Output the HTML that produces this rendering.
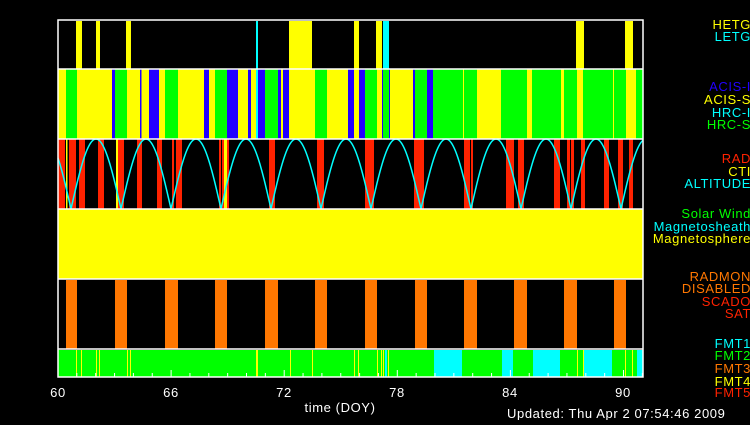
<!DOCTYPE html>
<html><head><style>
body{margin:0;background:#000;}
svg text{font-family:"Liberation Sans",sans-serif;font-size:13px;letter-spacing:0.6px;}
</style></head><body>
<svg width="750" height="420" xmlns="http://www.w3.org/2000/svg">
<rect width="750" height="420" fill="#000"/>
<g fill="#ffff00">
<rect x="76" y="21" width="6" height="48"/><rect x="96" y="21" width="4" height="48"/><rect x="126" y="21" width="5" height="48"/>
<rect x="289" y="21" width="23" height="48"/><rect x="354" y="21" width="5" height="48"/><rect x="376" y="21" width="6" height="48"/>
<rect x="576" y="21" width="8" height="48"/><rect x="625" y="21" width="8" height="48"/></g>
<g fill="#00ffff"><rect x="256" y="21" width="2" height="48"/><rect x="383" y="21" width="6" height="48"/></g>
<rect x="58" y="69" width="585" height="70" fill="#ffff00"/>
<g fill="#00ff00">
<rect x="66" y="69" width="11" height="70"/><rect x="115" y="69" width="12" height="70"/><rect x="165" y="69" width="13" height="70"/>
<rect x="215" y="69" width="12" height="70"/><rect x="265" y="69" width="13" height="70"/><rect x="315" y="69" width="12" height="70"/>
<rect x="365" y="69" width="12" height="70"/><rect x="383" y="69" width="6" height="70"/><rect x="415" y="69" width="12" height="70"/>
<rect x="433" y="69" width="44" height="70"/><rect x="501" y="69" width="26" height="70"/><rect x="532" y="69" width="29" height="70"/>
<rect x="564" y="69" width="13" height="70"/><rect x="583" y="69" width="43" height="70"/><rect x="636" y="69" width="7" height="70"/></g>
<g fill="#ffff00"><rect x="463" y="69" width="1" height="70"/><rect x="613" y="69" width="1" height="70"/></g>
<g fill="#2200ff">
<rect x="112" y="69" width="3" height="70"/><rect x="140" y="69" width="1.5" height="70"/><rect x="149" y="69" width="10" height="70"/>
<rect x="204" y="69" width="5" height="70"/><rect x="227" y="69" width="11" height="70"/><rect x="248" y="69" width="3" height="70"/>
<rect x="258" y="69" width="7" height="70"/><rect x="278" y="69" width="3" height="70"/><rect x="283" y="69" width="6" height="70"/>
<rect x="348" y="69" width="6" height="70"/><rect x="359" y="69" width="6" height="70"/><rect x="382" y="69" width="1" height="70"/>
<rect x="389" y="69" width="1" height="70"/><rect x="413" y="69" width="2" height="70"/><rect x="427" y="69" width="6" height="70"/></g>
<rect x="256" y="69" width="2" height="70" fill="#00ffff"/>
<g fill="#ff2200">
<rect x="58" y="139" width="7" height="70"/><rect x="69" y="139" width="7" height="70"/><rect x="79" y="139" width="6" height="70"/>
<rect x="98" y="139" width="6" height="70"/><rect x="118" y="139" width="6" height="70"/><rect x="137" y="139" width="5" height="70"/>
<rect x="157" y="139" width="5" height="70"/><rect x="172" y="139" width="2" height="70"/><rect x="176" y="139" width="6" height="70"/>
<rect x="219" y="139" width="2" height="70"/><rect x="222" y="139" width="2" height="70"/><rect x="227" y="139" width="2" height="70"/>
<rect x="269" y="139" width="6" height="70"/><rect x="317" y="139" width="7" height="70"/><rect x="365" y="139" width="9" height="70"/>
<rect x="414" y="139" width="10" height="70"/><rect x="464" y="139" width="6" height="70"/><rect x="471" y="139" width="2" height="70"/>
<rect x="506" y="139" width="8" height="70"/><rect x="518" y="139" width="6" height="70"/><rect x="554" y="139" width="6" height="70"/>
<rect x="567" y="139" width="3" height="70"/><rect x="571" y="139" width="3" height="70"/><rect x="581" y="139" width="4" height="70"/>
<rect x="604" y="139" width="5" height="70"/><rect x="618" y="139" width="5" height="70"/><rect x="629" y="139" width="4" height="70"/></g>
<g fill="#ffff00"><rect x="66" y="139" width="1.5" height="70"/><rect x="116" y="139" width="2" height="70"/><rect x="224" y="139" width="3" height="70"/></g>
<polyline id="alt" fill="none" stroke="#00ffff" stroke-width="1.5" points=""/>
<rect x="58" y="209" width="585" height="70" fill="#ffff00"/>
<g fill="#ff7700">
<rect x="66" y="280" width="11" height="69"/><rect x="115" y="280" width="12" height="69"/><rect x="165" y="280" width="13" height="69"/>
<rect x="215" y="280" width="12" height="69"/><rect x="265" y="280" width="13" height="69"/><rect x="315" y="280" width="12" height="69"/>
<rect x="365" y="280" width="12" height="69"/><rect x="415" y="280" width="12" height="69"/><rect x="464" y="280" width="13" height="69"/>
<rect x="514" y="280" width="13" height="69"/><rect x="564" y="280" width="13" height="69"/><rect x="614" y="280" width="12" height="69"/></g>
<rect x="58" y="350" width="585" height="27" fill="#00ff00"/>
<g fill="#00ffff"><rect x="434" y="350" width="28" height="27"/><rect x="502" y="350" width="11" height="27"/><rect x="533" y="350" width="27" height="27"/><rect x="584" y="350" width="28" height="27"/><rect x="637" y="350" width="6" height="27"/><rect x="385" y="350" width="2" height="27"/></g>
<g fill="#ffff00"><rect x="76" y="350" width="1" height="27"/><rect x="81" y="350" width="1" height="27"/><rect x="96" y="350" width="1" height="27"/><rect x="99" y="350" width="1" height="27"/><rect x="127" y="350" width="1" height="27"/><rect x="130" y="350" width="1" height="27"/><rect x="256" y="350" width="2" height="27"/><rect x="290" y="350" width="1" height="27"/><rect x="312" y="350" width="1" height="27"/><rect x="354" y="350" width="1" height="27"/><rect x="358" y="350" width="1" height="27"/><rect x="377" y="350" width="1" height="27"/><rect x="381" y="350" width="1" height="27"/><rect x="383" y="350" width="1" height="27"/><rect x="388" y="350" width="1" height="27"/><rect x="577" y="350" width="1" height="27"/><rect x="583" y="350" width="1" height="27"/><rect x="625" y="350" width="1" height="27"/><rect x="632" y="350" width="1" height="27"/></g>
<g fill="none" stroke="#fff" stroke-width="1.5">
<rect x="58" y="20" width="585" height="357"/>
<line x1="58" y1="69" x2="643" y2="69"/><line x1="58" y1="139" x2="643" y2="139"/><line x1="58" y1="209" x2="643" y2="209"/>
<line x1="58" y1="279" x2="643" y2="279"/><line x1="58" y1="349" x2="643" y2="349"/></g>
<g id="ticks" stroke="#fff" stroke-width="1"></g>
<g fill="#fff" text-anchor="middle">
<text x="58" y="397">60</text><text x="171" y="397">66</text><text x="284" y="397">72</text><text x="397" y="397">78</text><text x="510" y="397">84</text><text x="623" y="397">90</text>
<text x="340" y="412">time (DOY)</text></g>
<text x="507" y="418" fill="#fff">Updated: Thu Apr  2 07:54:46 2009</text>
<g text-anchor="end">
<text x="751" y="29" fill="#ffff00">HETG</text><text x="751" y="41" fill="#00ffff">LETG</text>
<text x="751" y="91" fill="#2200ff">ACIS-I</text><text x="751" y="104" fill="#ffff00">ACIS-S</text><text x="751" y="117" fill="#00ffff">HRC-I</text><text x="751" y="129" fill="#00ff00">HRC-S</text>
<text x="751" y="163" fill="#ff2200">RAD</text><text x="751" y="176" fill="#ffff00">CTI</text><text x="751" y="188" fill="#00ffff">ALTITUDE</text>
<text x="751" y="218" fill="#00ff00">Solar Wind</text><text x="751" y="231" fill="#00ffff">Magnetosheath</text><text x="751" y="243" fill="#ffff00">Magnetosphere</text>
<text x="751" y="281" fill="#ff7700">RADMON</text><text x="751" y="293" fill="#ff7700">DISABLED</text><text x="751" y="306" fill="#ff2200">SCADO</text><text x="751" y="318" fill="#ff2200">SAT</text>
<text x="751" y="348" fill="#00ffff">FMT1</text><text x="751" y="360" fill="#00ff00">FMT2</text><text x="751" y="373" fill="#ff7700">FMT3</text><text x="751" y="386" fill="#ffff00">FMT4</text><text x="751" y="397" fill="#ff2200">FMT5</text></g>
</svg>
<script>
var p=[];for(var x=58;x<=643;x+=1){var y=209-70*Math.abs(Math.sin(Math.PI*(x-71)/50));p.push(x+","+y.toFixed(1));}
document.getElementById("alt").setAttribute("points",p.join(" "));
var g=document.getElementById("ticks"),s="";
for(var d=60;d<=91;d++){var x=58+(d-60)*18.85;s+='<line x1="'+x+'" y1="377" x2="'+x+'" y2="'+(d%6==0?370:373)+'"/>';}
g.innerHTML=s;
</script>
</body></html>
